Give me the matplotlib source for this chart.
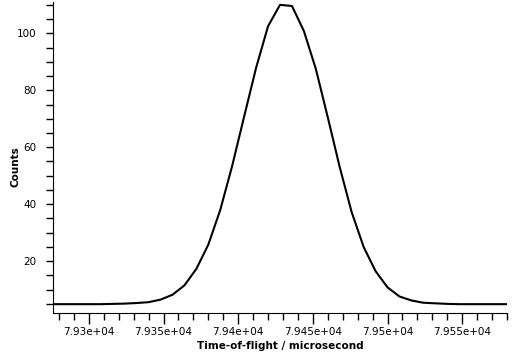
import matplotlib
matplotlib.use('Agg')
import matplotlib.pyplot as plt
from matplotlib.ticker import MultipleLocator, FuncFormatter

# time-of-flight bins (microsecond) and counts
tof = [79276, 79284, 79292, 79300, 79308, 79316, 79324, 79332, 79340, 79348,
       79356, 79364, 79372, 79380, 79388, 79396, 79404, 79412, 79420, 79428,
       79436, 79444, 79452, 79460, 79468, 79476, 79484, 79492, 79500, 79508,
       79516, 79524, 79532, 79540, 79548, 79556, 79564, 79572, 79580]
counts = [4.9, 4.9, 4.9, 4.9, 4.9, 5.0, 5.1, 5.3, 5.6, 6.5,
          8.2, 11.5, 17.3, 25.8, 38.0, 53.5, 70.8, 87.9, 102.5, 110.0,
          109.6, 100.8, 87.5, 70.5, 53.0, 37.2, 25.0, 16.5, 10.8, 7.6,
          6.2, 5.4, 5.2, 5.0, 4.9, 4.9, 4.9, 4.9, 4.9]

fig = plt.figure(figsize=(5.12, 3.57), dpi=100)
ax = fig.add_axes([53/512, 1-313/357, (507-53)/512, (313-2)/357])

ax.plot(tof, counts, color='black', linewidth=1.5)

ax.set_xlim(79276, 79580)
ax.set_ylim(1.8, 111)

ax.spines['top'].set_visible(False)
ax.spines['right'].set_visible(False)

ax.xaxis.set_major_locator(MultipleLocator(50))
ax.xaxis.set_minor_locator(MultipleLocator(10))
ax.xaxis.set_major_formatter(FuncFormatter(lambda v, p: '{:.4g}'.format(v)))
ax.yaxis.set_major_locator(MultipleLocator(20))
ax.yaxis.set_minor_locator(MultipleLocator(5))

ax.tick_params(axis='x', which='major', length=8, width=1, labelsize=7.5, pad=2)
ax.tick_params(axis='x', which='minor', length=5, width=1)
ax.tick_params(axis='y', which='both', length=5, width=1, labelsize=7.5, pad=7)

ax.set_xlabel('Time-of-flight / microsecond', fontsize=7.5, fontweight='bold', labelpad=3)
ax.set_ylabel('Counts', fontsize=7.5, fontweight='bold')
ax.yaxis.set_label_coords(-0.072, 0.47)

plt.savefig('out.png', dpi=100)
